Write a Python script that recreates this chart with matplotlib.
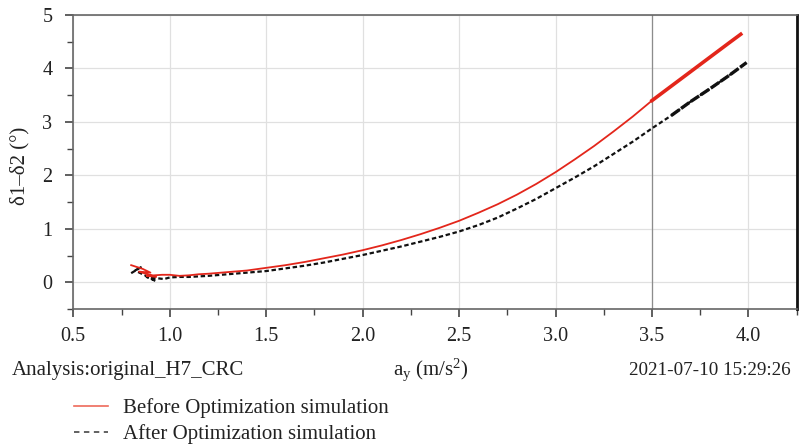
import matplotlib
matplotlib.use('Agg')
import matplotlib.pyplot as plt
from matplotlib.ticker import MultipleLocator

plt.rcParams['font.family'] = ['Liberation Serif', 'DejaVu Serif']
plt.rcParams['mathtext.fontset'] = 'custom'
plt.rcParams['mathtext.rm'] = 'Liberation Serif'
plt.rcParams['mathtext.it'] = 'Liberation Serif:italic'

# Before optimization (red)
before_x = [0.80, 0.86, 0.90, 0.84, 0.93, 0.88, 0.96, 1.00, 1.05, 1.10, 1.15, 1.20, 1.30, 1.40,
            1.50, 1.60, 1.70, 1.80, 1.90, 2.00, 2.10, 2.20, 2.30, 2.40, 2.50, 2.60, 2.70, 2.80,
            2.90, 3.00, 3.10, 3.20, 3.30, 3.40, 3.50, 3.60, 3.70, 3.80, 3.90, 3.96]
before_y = [0.32, 0.25, 0.18, 0.20, 0.10, 0.12, 0.14, 0.14, 0.12, 0.13, 0.15, 0.16, 0.19, 0.22,
            0.27, 0.32, 0.38, 0.45, 0.52, 0.60, 0.69, 0.79, 0.90, 1.02, 1.15, 1.30, 1.46, 1.64,
            1.84, 2.06, 2.30, 2.55, 2.82, 3.10, 3.40, 3.67, 3.94, 4.21, 4.48, 4.64]

# After optimization (black dashed)
after_x = [0.80, 0.85, 0.82, 0.90, 0.93, 0.88, 0.97, 1.00, 1.05, 1.10, 1.15, 1.20, 1.30, 1.40,
           1.50, 1.60, 1.70, 1.80, 1.90, 2.00, 2.10, 2.20, 2.30, 2.40, 2.50, 2.60, 2.70, 2.80,
           2.90, 3.00, 3.10, 3.20, 3.30, 3.40, 3.50, 3.60, 3.70, 3.80, 3.90, 3.99]
after_y = [0.17, 0.28, 0.22, 0.08, 0.02, 0.10, 0.06, 0.09, 0.10, 0.10, 0.11, 0.12, 0.15, 0.18,
           0.21, 0.26, 0.31, 0.37, 0.44, 0.51, 0.59, 0.67, 0.76, 0.85, 0.95, 1.07, 1.21, 1.38,
           1.56, 1.76, 1.96, 2.17, 2.40, 2.63, 2.88, 3.12, 3.38, 3.62, 3.87, 4.11]

x_ticks = [0.5, 1.0, 1.5, 2.0, 2.5, 3.0, 3.5, 4.0]
y_ticks = [0, 1, 2, 3, 4, 5]
cursor_x = 3.5

fig = plt.figure(figsize=(8.01, 4.44), dpi=100)
ax = fig.add_axes([73.3 / 801, 1 - 309 / 444, (796.7 - 73.3) / 801, (309 - 15) / 444])

ax.plot(before_x, before_y, color='#e3261b', lw=1.3, label='Before Optimization simulation', zorder=3)
# thicker noisy tail
ax.plot([x for x in before_x if x >= 3.5], [y for x, y in zip(before_x, before_y) if x >= 3.5],
        color='#e3261b', lw=2.6, zorder=3)
ax.plot(after_x, after_y, color='#111111', lw=1.6, ls=(0, (2, 1.2)),
        label='After Optimization simulation', zorder=2.5)
ax.plot([x for x in after_x if x >= 3.55], [y for x, y in zip(after_x, after_y) if x >= 3.55],
        color='#111111', lw=2.4, ls=(0, (3, 0.6)), zorder=2.5)

ax.axvline(cursor_x, color='#8c8c8c', lw=0.9, zorder=2)

ax.set_xlim(0.5, 4.25)
ax.set_ylim(-0.5, 5)
ax.set_xticks(x_ticks)
ax.set_xticklabels([f'{v:.1f}' for v in x_ticks])
ax.set_yticks(y_ticks)
ax.xaxis.set_minor_locator(MultipleLocator(0.25))
ax.yaxis.set_minor_locator(MultipleLocator(0.5))
ax.grid(True, which='major', color='#e0e0e0', lw=0.9)
ax.tick_params(which='both', direction='out', colors='#444444', labelcolor='#222222', labelsize=14.5)
ax.tick_params(which='major', length=6, width=1.2)
ax.tick_params(which='minor', length=4, width=1.0)
ax.tick_params(axis='x', pad=7)
ax.tick_params(axis='y', pad=9)

for side in ['top', 'left', 'bottom']:
    ax.spines[side].set_color('#666666')
    ax.spines[side].set_linewidth(1.2)
ax.spines['right'].set_color('#111111')
ax.spines['right'].set_linewidth(2.0)

ax.set_ylabel('δ1–δ2 (°)', fontsize=15, color='#222222')
ax.yaxis.set_label_coords((29 - 73.3) / (796.7 - 73.3), (309 - 166) / (309 - 15))

fig.text(12 / 801, 1 - 370 / 444, 'Analysis:original_H7_CRC', fontsize=15, color='#222222',
         ha='left', va='center')
fig.text(431 / 801, 1 - 370 / 444, r'$\mathregular{a_y}$ (m/s$^\mathregular{2}$)', fontsize=15,
         color='#222222', ha='center', va='center')
fig.text(791 / 801, 1 - 370 / 444, '2021-07-10 15:29:26', fontsize=13.8, color='#222222',
         ha='right', va='center')

fig.legend(handles=ax.lines[0:1] + ax.lines[2:3],
           labels=['Before Optimization simulation', 'After Optimization simulation'],
           loc='center left', bbox_to_anchor=(55 / 801, 1 - 421 / 444), frameon=False,
           fontsize=15, handlelength=1.65, handletextpad=0.7, labelspacing=0.3,
           labelcolor='#222222')
leg = fig.legends[0]
leg.get_lines()[0].set_color('#ee6a5a')
leg.get_lines()[0].set_linewidth(1.2)
leg.get_lines()[1].set_color('#555555')
leg.get_lines()[1].set_linestyle((0, (3, 2.5)))
leg.get_lines()[1].set_linewidth(1.3)

fig.savefig('out.png', dpi=100)
